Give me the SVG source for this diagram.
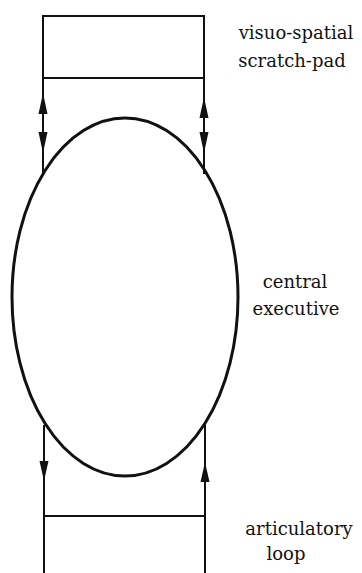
<svg xmlns="http://www.w3.org/2000/svg" width="362" height="573" viewBox="0 0 362 573">
<style>
.ln{stroke:#111;stroke-width:2;fill:none}
.el{stroke:#111;stroke-width:3;fill:none}
.ah{fill:#111}
.t{font-family:'DejaVu Serif','Liberation Serif',serif;font-size:18px;fill:#111;text-anchor:middle}
</style>
<rect width="362" height="573" fill="#fff"/>
<g id="scratch-pad">
<rect class="ln" x="43" y="16" width="161" height="62"/>
<text class="t" x="296" y="39">visuo-spatial</text>
<text class="t" x="292" y="67">scratch-pad</text>
</g>
<g id="central-executive">
<ellipse class="el" cx="125" cy="297" rx="113" ry="179"/>
<text class="t" x="295" y="288">central</text>
<text class="t" x="296" y="315">executive</text>
</g>
<g id="articulatory-loop">
<path class="ln" d="M44 516 H205 M44 516 V573 M205 516 V573"/>
<text class="t" x="299" y="535">articulatory</text>
<text class="t" x="286" y="560">loop</text>
</g>
<g id="connectors">
<path class="ln" d="M43 78 V174 M204 78 V174 M44 425 V516 M205 425 V516"/>
<path class="ah" d="M43 93 L38.5 114 L47.5 114 Z M43 153 L38.5 132 L47.5 132 Z"/>
<path class="ah" d="M204 97 L199.5 118 L208.5 118 Z M204 153 L199.5 132 L208.5 132 Z"/>
<path class="ah" d="M44 481 L39.5 461 L48.5 461 Z"/>
<path class="ah" d="M205 462 L200.5 482 L209.5 482 Z"/>
</g>
</svg>
